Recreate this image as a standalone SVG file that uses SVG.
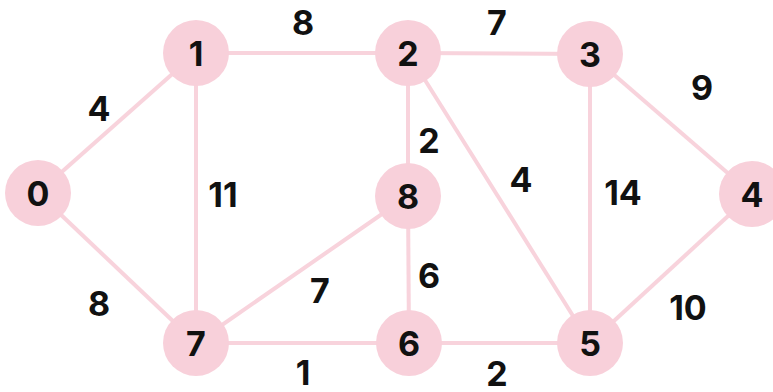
<svg xmlns="http://www.w3.org/2000/svg" width="773" height="392" viewBox="0 0 773 392">
<style>
.e{stroke:#f8d3dc;stroke-width:4;fill:none}
.n circle{fill:#f8d0da}
text{font-family:Inter,"Liberation Sans",sans-serif;font-weight:700;font-size:34px;fill:#111;text-anchor:middle;dominant-baseline:central}
</style>
<rect width="773" height="392" fill="#fff"/>
<g id="edges">
<line class="e" x1="38" y1="193" x2="196" y2="53"/>
<line class="e" x1="38" y1="193" x2="196" y2="343"/>
<line class="e" x1="196" y1="53" x2="408" y2="53"/>
<line class="e" x1="196" y1="53" x2="196" y2="343"/>
<line class="e" x1="408" y1="53" x2="590" y2="54"/>
<line class="e" x1="408" y1="53" x2="408" y2="196"/>
<line class="e" x1="408" y1="53" x2="590" y2="343"/>
<line class="e" x1="590" y1="54" x2="752" y2="194"/>
<line class="e" x1="590" y1="54" x2="590" y2="343"/>
<line class="e" x1="408" y1="196" x2="196" y2="343"/>
<line class="e" x1="408" y1="196" x2="409" y2="343"/>
<line class="e" x1="196" y1="343" x2="409" y2="343"/>
<line class="e" x1="409" y1="343" x2="590" y2="343"/>
<line class="e" x1="590" y1="343" x2="752" y2="194"/>
</g>
<g id="weights">
<text x="99" y="108">4</text>
<text x="303" y="22">8</text>
<text x="223" y="194">11</text>
<text x="497" y="22">7</text>
<text x="702" y="87">9</text>
<text x="429" y="140">2</text>
<text x="521" y="179">4</text>
<text x="623" y="192">14</text>
<text x="99" y="303">8</text>
<text x="320" y="290">7</text>
<text x="429" y="275">6</text>
<text x="303" y="372">1</text>
<text x="497" y="373">2</text>
<text x="688" y="307">10</text>
</g>
<g id="node0" class="n"><circle cx="38" cy="193" r="33"/><text x="38" y="193">0</text></g>
<g id="node1" class="n"><circle cx="196" cy="53" r="33"/><text x="196" y="53">1</text></g>
<g id="node2" class="n"><circle cx="408" cy="53" r="33"/><text x="408" y="53">2</text></g>
<g id="node3" class="n"><circle cx="590" cy="54" r="33"/><text x="590" y="54">3</text></g>
<g id="node4" class="n"><circle cx="752" cy="194" r="33"/><text x="752" y="194">4</text></g>
<g id="node8" class="n"><circle cx="408" cy="196" r="33"/><text x="408" y="196">8</text></g>
<g id="node7" class="n"><circle cx="196" cy="343" r="33"/><text x="196" y="343">7</text></g>
<g id="node6" class="n"><circle cx="409" cy="343" r="33"/><text x="409" y="343">6</text></g>
<g id="node5" class="n"><circle cx="590" cy="343" r="33"/><text x="590" y="343">5</text></g>
</svg>
